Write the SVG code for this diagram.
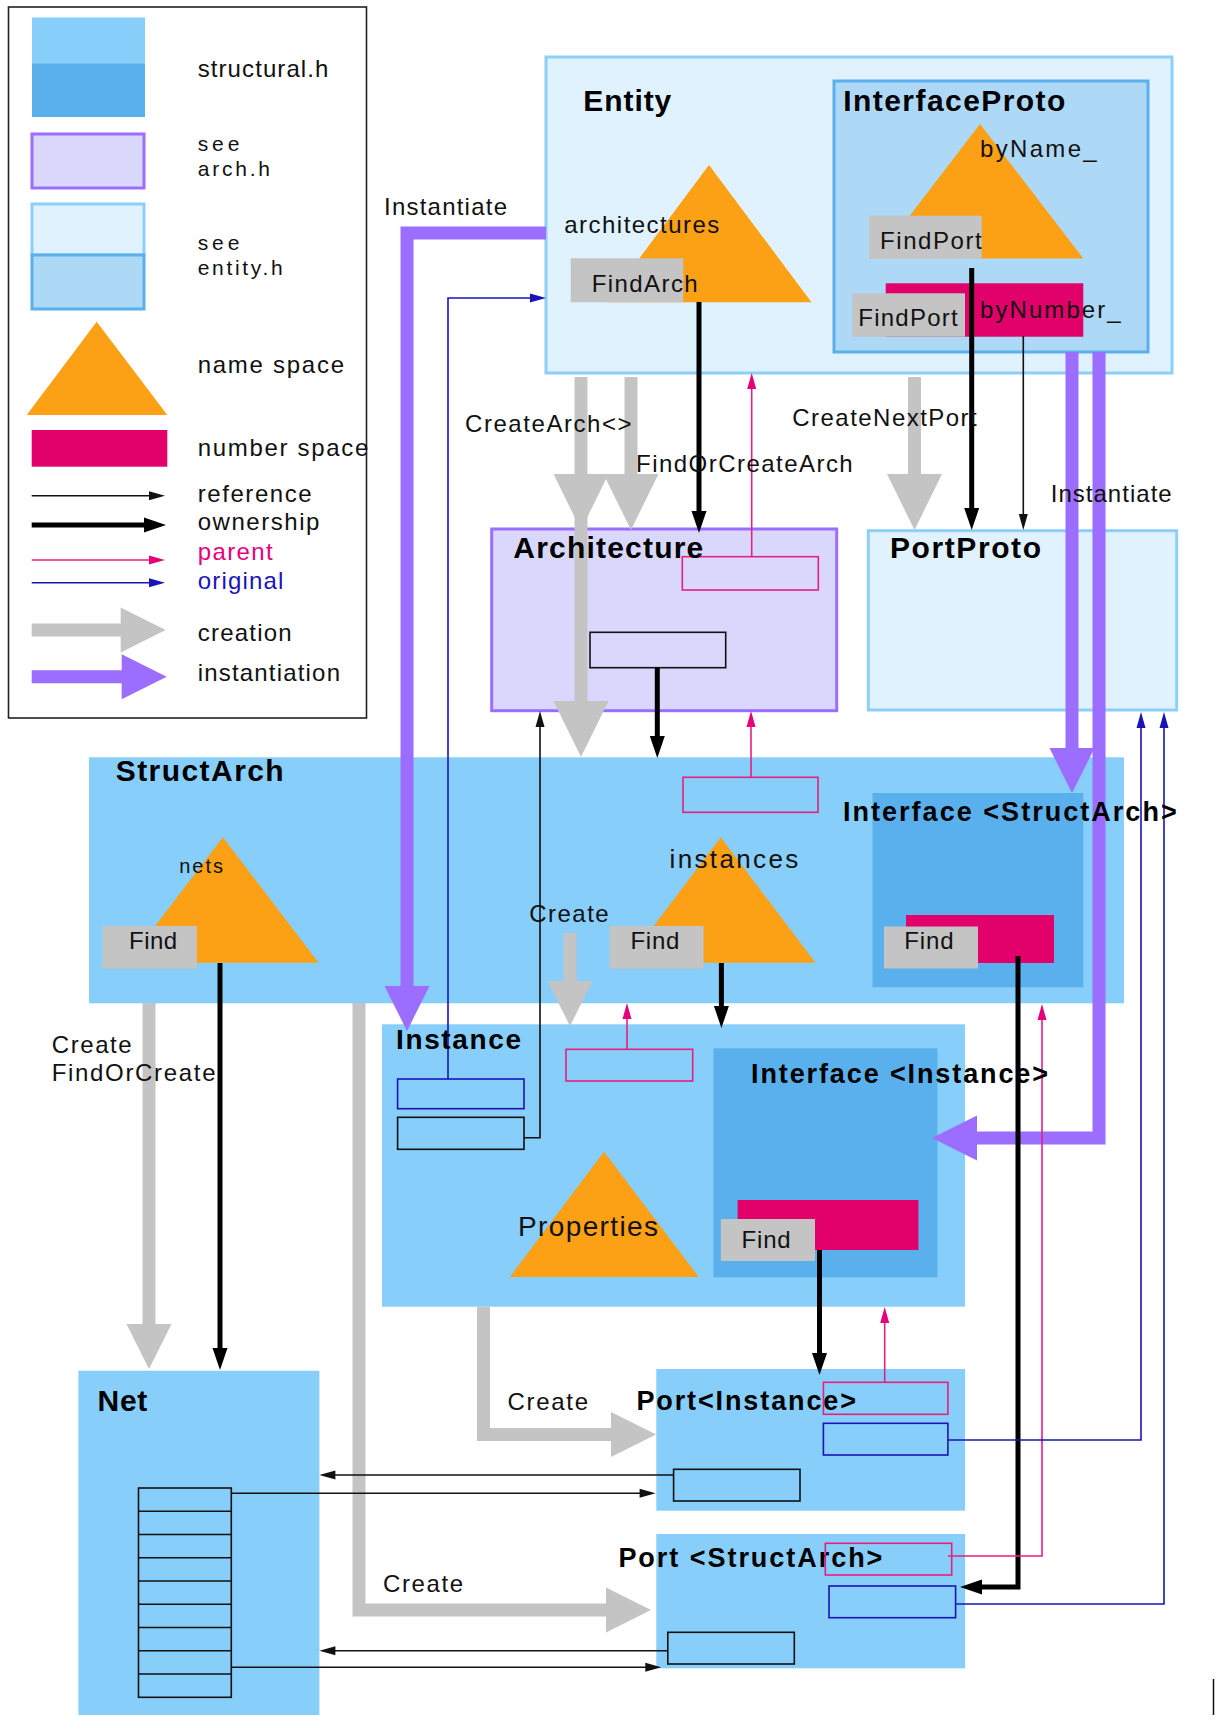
<svg xmlns="http://www.w3.org/2000/svg" width="1216" height="1724" viewBox="0 0 1216 1724">
<style>
text{font-family:"Liberation Sans",Arial,sans-serif;font-size:24px;fill:#111}
.t{font-weight:bold;font-size:30px;fill:#000}
.ts{font-weight:bold;font-size:27px;fill:#000}
.sm{font-size:21px}
.fs{fill:#87CEFA}
.fi{fill:#5AB0EC}
.ent{fill:#E0F2FE;stroke:#8DCFF8;stroke-width:3}
.ip{fill:#ADD8F6;stroke:#5AB0EC;stroke-width:3}
.arch{fill:#D9D8FC;stroke:#9B6EFF;stroke-width:3}
.ns{fill:#FCA016}
.num{fill:#E2006A}
.find{fill:#C4C4C4}
.bx{fill:none;stroke:#111;stroke-width:1.6}
.bp{fill:none;stroke:#E6207F;stroke-width:1.6}
.bb{fill:none;stroke:#1A14B8;stroke-width:1.6}
.ref{fill:none;stroke:#111;stroke-width:1.6;marker-end:url(#m-ref)}
.own{fill:none;stroke:#000;stroke-width:5;marker-end:url(#m-own)}
.par{fill:none;stroke:#E6207F;stroke-width:1.6;marker-end:url(#m-par)}
.org{fill:none;stroke:#1A14B8;stroke-width:1.6;marker-end:url(#m-org)}
.cre{fill:none;stroke:#C4C4C4;stroke-width:13;stroke-linejoin:miter;marker-end:url(#m-cre)}
.creL{fill:none;stroke:#C4C4C4;stroke-width:13;marker-end:url(#m-creL)}
.ins{fill:none;stroke:#9B6EFF;stroke-width:13;stroke-linejoin:miter;marker-end:url(#m-ins)}
</style>
<defs>
<marker id="m-ref" markerUnits="userSpaceOnUse" viewBox="-6 -6 20 12" markerWidth="20" markerHeight="12" refX="0" refY="0" orient="auto"><path d="M-4,-4.5 L12,0 L-4,4.5 z" fill="#111"/></marker>
<marker id="m-par" markerUnits="userSpaceOnUse" viewBox="-6 -6 20 12" markerWidth="20" markerHeight="12" refX="0" refY="0" orient="auto"><path d="M-4,-4.5 L12,0 L-4,4.5 z" fill="#E6007A"/></marker>
<marker id="m-org" markerUnits="userSpaceOnUse" viewBox="-6 -6 20 12" markerWidth="20" markerHeight="12" refX="0" refY="0" orient="auto"><path d="M-4,-4.5 L12,0 L-4,4.5 z" fill="#1A14B8"/></marker>
<marker id="m-own" markerUnits="userSpaceOnUse" viewBox="-8 -9 26 18" markerWidth="26" markerHeight="18" refX="0" refY="0" orient="auto"><path d="M-6,-7.5 L16,0 L-6,7.5 z" fill="#000"/></marker>
<marker id="m-cre" markerUnits="userSpaceOnUse" viewBox="-2 -24 48 48" markerWidth="48" markerHeight="48" refX="0" refY="0" orient="auto"><path d="M-1,-22.5 L44,0 L-1,22.5 z" fill="#C4C4C4"/></marker>
<marker id="m-creL" markerUnits="userSpaceOnUse" viewBox="-2 -29 60 58" markerWidth="60" markerHeight="58" refX="0" refY="0" orient="auto"><path d="M-1,-27.5 L55,0 L-1,27.5 z" fill="#C4C4C4"/></marker>
<marker id="m-ins" markerUnits="userSpaceOnUse" viewBox="-2 -24 48 48" markerWidth="48" markerHeight="48" refX="0" refY="0" orient="auto"><path d="M-1,-22.5 L44,0 L-1,22.5 z" fill="#9B6EFF"/></marker>
</defs>
<rect width="1216" height="1724" fill="#fff"/>

<g id="legend">
<rect x="8.5" y="7" width="358" height="711" fill="none" stroke="#222" stroke-width="1.6"/>
<rect x="32" y="17.5" width="113" height="46" class="fs"/>
<rect x="32" y="63.3" width="113" height="53.7" class="fi"/>
<text x="197.7" y="77" textLength="130.7" lengthAdjust="spacing">structural.h</text>
<rect x="32" y="134" width="112" height="54" class="arch"/>
<text class="sm" x="197.7" y="151" textLength="41.7" lengthAdjust="spacing">see</text>
<text class="sm" x="197.7" y="176" textLength="72.3" lengthAdjust="spacing">arch.h</text>
<rect x="32" y="204" width="112" height="51" class="ent"/>
<rect x="32" y="255" width="112" height="54" class="ip"/>
<text class="sm" x="197.7" y="249.5" textLength="41.7" lengthAdjust="spacing">see</text>
<text class="sm" x="197.7" y="274.5" textLength="85" lengthAdjust="spacing">entity.h</text>
<polygon points="96.7,321.7 26.7,415 167.3,415" class="ns"/>
<text x="197.7" y="372.5" textLength="146.3" lengthAdjust="spacing">name space</text>
<rect x="31.7" y="430" width="135.6" height="36.7" class="num"/>
<text x="197.7" y="456" textLength="170.7" lengthAdjust="spacing">number space</text>
<path d="M31.7,495.7 H153" class="ref"/>
<text x="197.7" y="501.5" textLength="114" lengthAdjust="spacing">reference</text>
<path d="M31.7,525 H150" class="own"/>
<text x="197.7" y="530" textLength="121.7" lengthAdjust="spacing">ownership</text>
<path d="M31.7,560 H153" class="par"/>
<text x="197.7" y="559.5" textLength="75" lengthAdjust="spacing" style="fill:#E6007A">parent</text>
<path d="M31.7,582.7 H153" class="org"/>
<text x="197.7" y="589" textLength="85.7" lengthAdjust="spacing" style="fill:#1A14B8">original</text>
<path d="M31.7,630 H121.7" class="cre"/>
<text x="197.7" y="641" textLength="94" lengthAdjust="spacing">creation</text>
<path d="M31.7,676.7 H122.7" class="ins"/>
<text x="197.7" y="681" textLength="142.3" lengthAdjust="spacing">instantiation</text>
</g>

<g id="entity">
<rect x="546" y="57" width="626" height="316" class="ent"/>
<text class="t" x="583.3" y="111" textLength="88" lengthAdjust="spacing">Entity</text>
<polygon points="709,165 606.5,302.3 811.5,302.3" class="ns"/>
<text x="564.3" y="232.7" textLength="155" lengthAdjust="spacing">architectures</text>
<rect x="570.7" y="258.3" width="112.6" height="44" class="find"/>
<text x="591.7" y="292.3" textLength="106" lengthAdjust="spacing">FindArch</text>
</g>

<g id="interface-proto">
<rect x="834" y="81" width="314" height="271" class="ip"/>
<text class="t" x="843.3" y="110.7" textLength="222" lengthAdjust="spacing">InterfaceProto</text>
<polygon points="980,124 877,258.5 1083.3,258.5" class="ns"/>
<text x="980" y="156.7" textLength="116.7" lengthAdjust="spacing">byName_</text>
<rect x="869" y="215.7" width="112.7" height="43.3" class="find"/>
<text x="880" y="249.3" textLength="101.7" lengthAdjust="spacing">FindPort</text>
<rect x="885.7" y="283.3" width="197.6" height="53.4" class="num"/>
<rect x="852.3" y="293.3" width="112.7" height="43.4" class="find"/>
<text x="858.3" y="325.7" textLength="99.3" lengthAdjust="spacing">FindPort</text>
<text x="980" y="318" textLength="140.7" lengthAdjust="spacing">byNumber_</text>
</g>

<g id="architecture">
<rect x="491.7" y="529" width="345" height="181.7" class="arch"/>
<rect x="682.3" y="556.7" width="136" height="33.3" class="bp"/>
<rect x="590" y="632.3" width="135.7" height="35.4" class="bx"/>
</g>

<g id="port-proto">
<rect x="868.3" y="530.7" width="308.4" height="179.3" class="ent"/>
<text class="t" x="890" y="557.7" textLength="151" lengthAdjust="spacing">PortProto</text>
</g>

<g id="struct-arch">
<rect x="89" y="757.3" width="1035" height="246" class="fs"/>
<text class="t" x="115.7" y="781" textLength="168" lengthAdjust="spacing">StructArch</text>
<polygon points="222.9,837.3 127,962.7 318.6,962.7" class="ns"/>
<text x="179.3" y="873.3" textLength="43.6" lengthAdjust="spacing" style="font-size:20px">nets</text>
<rect x="102.5" y="926" width="94.3" height="42.7" class="find"/>
<text x="129" y="949.3" textLength="48.2" lengthAdjust="spacing">Find</text>
<rect x="683" y="777.3" width="135" height="35" class="bp"/>
<polygon points="720.7,837.3 626,962.7 815.4,962.7" class="ns"/>
<text x="669.6" y="867.7" textLength="128.6" lengthAdjust="spacing" style="font-size:26px">instances</text>
<rect x="609.6" y="926" width="94" height="42.7" class="find"/>
<text x="630.4" y="949" textLength="49" lengthAdjust="spacing">Find</text>
</g>

<g id="interface-structarch">
<rect x="872.5" y="793" width="210.8" height="194.3" class="fi"/>
<rect x="906" y="915" width="148" height="48" class="num"/>
<rect x="884" y="926.5" width="94" height="42" class="find"/>
<text x="904.3" y="949" textLength="49.3" lengthAdjust="spacing">Find</text>
</g>

<g id="instance">
<rect x="382" y="1024.3" width="583" height="282.4" class="fs"/>
<rect x="397.6" y="1079" width="126.4" height="29.7" class="bb"/>
<rect x="397.6" y="1117.3" width="126.4" height="32" class="bx"/>
<rect x="566" y="1049.3" width="126.7" height="31.7" class="bp"/>
<polygon points="604,1151.7 509.8,1277 698.8,1277" class="ns"/>
<text x="518" y="1236" textLength="140" lengthAdjust="spacing" style="font-size:28px">Properties</text>
</g>

<g id="interface-instance">
<rect x="713.5" y="1048.3" width="224" height="229" class="fi"/>
<rect x="737.6" y="1200" width="180.8" height="50" class="num"/>
<rect x="720.8" y="1219" width="94.2" height="42" class="find"/>
<text x="741.6" y="1248.3" textLength="49" lengthAdjust="spacing">Find</text>
</g>

<g id="net">
<rect x="78.4" y="1370.7" width="241" height="344.3" class="fs"/>
<text class="t" x="97.5" y="1411" textLength="49.8" lengthAdjust="spacing">Net</text>
<g class="bx">
<rect x="138.5" y="1488" width="92.8" height="209.3"/>
<path d="M138.5,1511.3 H231.3 M138.5,1534.5 H231.3 M138.5,1557.8 H231.3 M138.5,1581 H231.3 M138.5,1604.3 H231.3 M138.5,1627.5 H231.3 M138.5,1650.8 H231.3 M138.5,1674 H231.3"/>
</g>
</g>

<g id="port-instance">
<rect x="656.3" y="1369" width="308.8" height="141.7" class="fs"/>
<text class="ts" x="636.4" y="1410" textLength="219.6" lengthAdjust="spacing">Port&lt;Instance&gt;</text>
<rect x="823.4" y="1382.3" width="124.5" height="32" class="bp"/>
<rect x="823.4" y="1423.3" width="124.5" height="31.7" class="bb"/>
<rect x="673.6" y="1469.3" width="126.4" height="31.7" class="bx"/>
</g>

<g id="port-structarch">
<rect x="656.3" y="1534" width="308.8" height="134.3" class="fs"/>
<text class="ts" x="618.4" y="1567.3" textLength="264" lengthAdjust="spacing">Port &lt;StructArch&gt;</text>
<rect x="825.3" y="1543.3" width="126.4" height="31.7" class="bp"/>
<rect x="829" y="1586" width="126.6" height="31.7" class="bb"/>
<rect x="667.8" y="1632.3" width="126.5" height="31.7" class="bx"/>
</g>

<g id="connectors">
<path d="M581,377 V475" class="creL"/>
<path d="M581,475 V702" class="creL"/>
<path d="M631,377 V475" class="creL"/>
<path d="M914.5,377 V475" class="creL"/>
<path d="M570,933 V982" class="cre"/>
<path d="M149,1003 V1325" class="cre"/>
<path d="M483.5,1306.7 V1434.5 H612" class="cre"/>
<path d="M359,1003 V1610 H607" class="cre"/>
<path d="M546,233 H407 V987" class="ins"/>
<path d="M1072,352 V749" class="ins"/>
<path d="M1099,352 V1138 H976" class="ins"/>
<path d="M699,302 V517" class="own"/>
<path d="M971.7,268 V514" class="own"/>
<path d="M657.3,668 V742" class="own"/>
<path d="M220,963 V1354" class="own"/>
<path d="M721.4,963 V1012" class="own"/>
<path d="M819.5,1250 V1359" class="own"/>
<path d="M1018,956 V1587 H976" class="own"/>
<path d="M1023.3,336 V518" class="ref"/>
<path d="M524,1137.7 H540 V723" class="ref"/>
<path d="M673.6,1475 H331.4" class="ref"/>
<path d="M231.3,1493.3 H643.6" class="ref"/>
<path d="M667.8,1650.7 H331.4" class="ref"/>
<path d="M231.3,1667.3 H649.3" class="ref"/>
<path d="M751.7,556.7 V385" class="par"/>
<path d="M751,777.3 V723" class="par"/>
<path d="M627,1049.3 V1015" class="par"/>
<path d="M884.7,1382.3 V1319" class="par"/>
<path d="M948,1556 H1042 V1016" class="par"/>
<path d="M448,1079 V298 H534" class="org"/>
<path d="M948,1440 H1141 V724" class="org"/>
<path d="M955.6,1604 H1164 V724" class="org"/>
<text x="384" y="215" textLength="123" lengthAdjust="spacing">Instantiate</text>
<text x="465" y="432" textLength="166.6" lengthAdjust="spacing">CreateArch&lt;&gt;</text>
<text x="636" y="472" textLength="216.7" lengthAdjust="spacing">FindOrCreateArch</text>
<text x="792.3" y="426" textLength="184.4" lengthAdjust="spacing">CreateNextPort</text>
<text x="1050.7" y="502" textLength="121" lengthAdjust="spacing">Instantiate</text>
<text x="529.3" y="922" textLength="79.3" lengthAdjust="spacing">Create</text>
<text x="51.7" y="1053" textLength="80" lengthAdjust="spacing">Create</text>
<text x="51.7" y="1080.5" textLength="163.8" lengthAdjust="spacing">FindOrCreate</text>
<text x="507.5" y="1410" textLength="80.5" lengthAdjust="spacing">Create</text>
<text x="383" y="1591.7" textLength="80" lengthAdjust="spacing">Create</text>
</g>

<g id="node-titles">
<text class="t" x="513.3" y="558.3" textLength="190" lengthAdjust="spacing">Architecture</text>
<text class="ts" x="842.9" y="821" textLength="333.8" lengthAdjust="spacing">Interface &lt;StructArch&gt;</text>
<text class="ts" x="396" y="1049" textLength="125" lengthAdjust="spacing" style="font-size:28px">Instance</text>
<text class="ts" x="751" y="1083" textLength="297" lengthAdjust="spacing">Interface &lt;Instance&gt;</text>
</g>
<path d="M1213.5,1679 V1715" stroke="#111" stroke-width="1.5"/>
</svg>
